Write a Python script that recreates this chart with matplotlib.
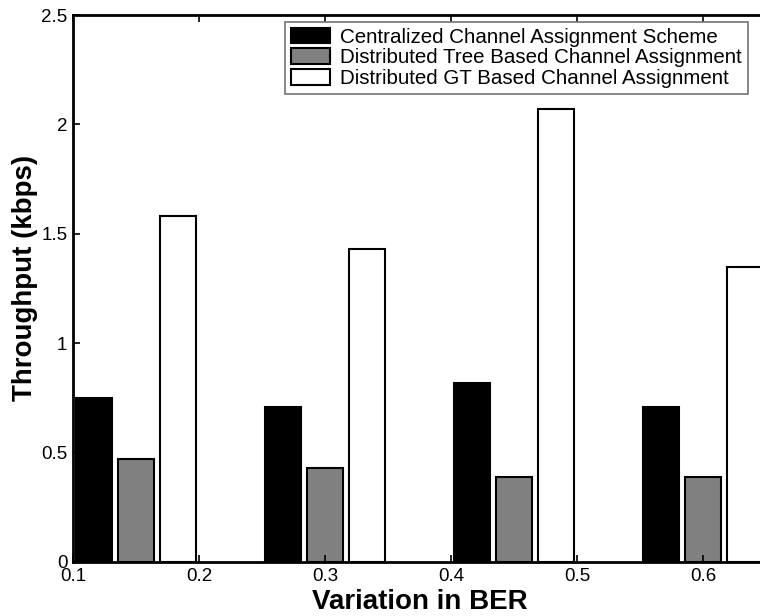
import numpy as np
import matplotlib
matplotlib.use('Agg')
import matplotlib.pyplot as plt

plt.rcParams['font.family'] = ['Liberation Sans', 'DejaVu Sans']

# data
ber = [0.15, 0.30, 0.45, 0.60]
centralized = [0.75, 0.71, 0.82, 0.71]
tree_based = [0.47, 0.43, 0.39, 0.39]
gt_based = [1.58, 1.43, 2.07, 1.35]
labels = ['Centralized Channel Assignment Scheme',
          'Distributed Tree Based Channel Assignment',
          'Distributed GT Based Channel Assignment']
xticks = [0.1, 0.2, 0.3, 0.4, 0.5, 0.6]
yticks = [0, 0.5, 1, 1.5, 2, 2.5]

fig = plt.figure(figsize=(7.6, 6.16), dpi=100)
# axes runs past the right edge, like the cropped original
ax = fig.add_axes([73/760, 54/616, 756/760, 547/616])

x = np.array(ber)
off = 0.0333
w = 0.028
ax.bar(x - off, centralized, w, color='black', edgecolor='black', linewidth=1.5, label=labels[0])
ax.bar(x, tree_based, w, color='#808080', edgecolor='black', linewidth=1.5, label=labels[1])
ax.bar(x + off, gt_based, w, color='white', edgecolor='black', linewidth=1.5, label=labels[2])

ax.set_xlim(0.1, 0.7)
ax.set_ylim(0, 2.5)
ax.set_xticks(xticks)
ax.set_xticklabels([f'{t:g}' for t in xticks])
ax.set_yticks(yticks)
ax.set_yticklabels([f'{t:g}' for t in yticks])
ax.tick_params(direction='in', length=5, width=1.2, labelsize=13.5,
               top=True, right=True, pad=4)
for s in ax.spines.values():
    s.set_linewidth(2)

ax.set_xlabel('Variation in BER', fontsize=20, fontweight='bold')
ax.set_ylabel('Throughput (kbps)', fontsize=20, fontweight='bold')
ax.xaxis.set_label_coords((420-73)/756, -0.049)
ax.yaxis.set_label_coords(-0.046, 0.52)

leg = ax.legend(loc='upper left', bbox_to_anchor=((285-73)/756, 0.988),
                fontsize=14.8, fancybox=False, framealpha=1, edgecolor='0.45',
                handlelength=1.9, handleheight=0.8, labelspacing=0.08,
                borderpad=0.3, handletextpad=0.5, borderaxespad=0)
leg.get_frame().set_linewidth(1.2)

fig.savefig('out.png', dpi=100)
